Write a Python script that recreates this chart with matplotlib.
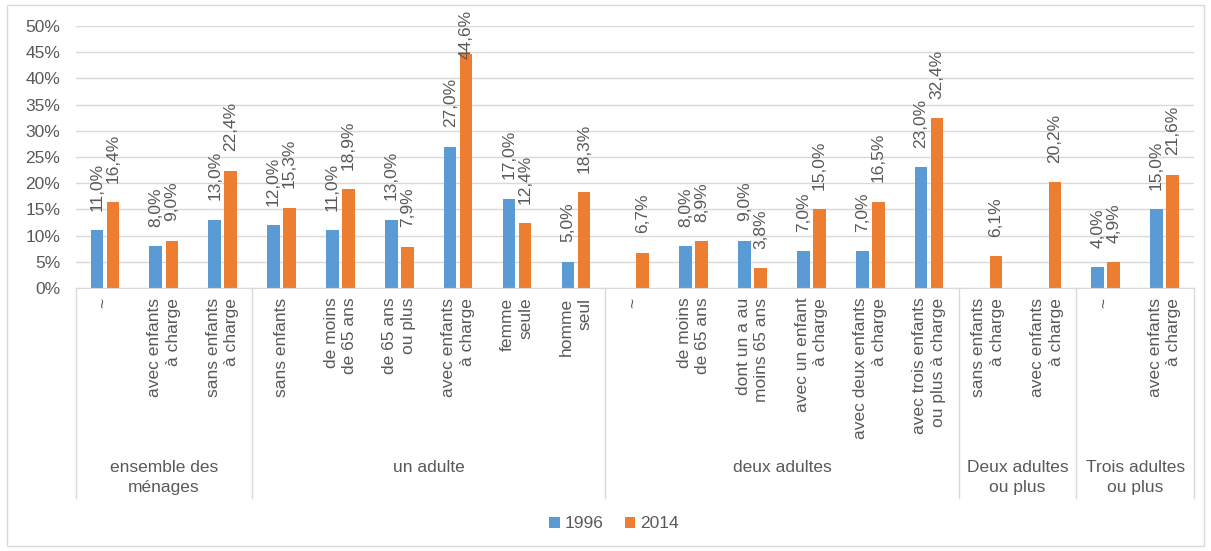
import matplotlib.pyplot as plt
import numpy as np
from matplotlib.patches import Rectangle
import matplotlib.transforms as mtransforms

plt.rcParams['font.family'] = ['Liberation Sans', 'DejaVu Sans']

# Data
categories = ["~", "avec enfants\nà charge", "sans enfants\nà charge",
              "sans enfants", "de moins\nde 65 ans", "de 65 ans\nou plus",
              "avec enfants\nà charge", "femme\nseule", "homme\nseul",
              "~", "de moins\nde 65 ans", "dont un a au\nmoins 65 ans",
              "avec un enfant\nà charge", "avec deux enfants\nà charge",
              "avec trois enfants\nou plus à charge",
              "sans enfants\nà charge", "avec enfants\nà charge",
              "~", "avec enfants\nà charge"]
groups = ["ensemble des\nménages", "un adulte", "deux adultes",
          "Deux adultes\nou plus", "Trois adultes\nou plus"]
group_sizes = [3, 6, 6, 2, 2]
v1996 = [11.0, 8.0, 13.0, 12.0, 11.0, 13.0, 27.0, 17.0, 5.0,
         None, 8.0, 9.0, 7.0, 7.0, 23.0, None, None, 4.0, 15.0]
v2014 = [16.4, 9.0, 22.4, 15.3, 18.9, 7.9, 44.6, 12.4, 18.3,
         6.7, 8.9, 3.8, 15.0, 16.5, 32.4, 6.1, 20.2, 4.9, 21.6]

blue = '#5B9BD5'
orange = '#ED7D31'
grey = '#595959'
light = '#d9d9d9'

W, H = 1211, 551
fig = plt.figure(figsize=(W / 100, H / 100), dpi=100)
ax = fig.add_axes([75.5 / W, 1 - 288 / H, (1194 - 75.5) / W, (288 - 26) / H])

x = np.arange(len(categories))
bw = 0.214
off = 0.136
y96 = np.array([np.nan if v is None else v for v in v1996])
y14 = np.array(v2014, dtype=float)
ax.bar(x - off, y96, bw, color=blue, label='1996', zorder=2)
ax.bar(x + off, y14, bw, color=orange, label='2014', zorder=2)

ax.set_xlim(-0.5, len(categories) - 0.5)
ax.set_ylim(0, 50)
ax.set_yticks(np.arange(0, 51, 5))
ax.set_yticklabels([f"{t}%" for t in range(0, 51, 5)])
ax.yaxis.grid(True, color=light, linewidth=1, zorder=0)
ax.set_axisbelow(True)
for s in ['top', 'right', 'left']:
    ax.spines[s].set_visible(False)
ax.spines['bottom'].set_color(light)
ax.tick_params(axis='y', length=0, pad=11, labelsize=12.5, labelcolor=grey)
ax.tick_params(axis='x', length=0, pad=7)
ax.set_xticks(x)
ax.set_xticklabels(categories, rotation=90, va='top', ha='center',
                   multialignment='right', fontsize=12.5, color=grey,
                   linespacing=1.3)

# data labels
gap = 14
labels = []
for xs, ys in [(x - off, y96), (x + off, y14)]:
    for xi, yi in zip(xs, ys):
        if np.isnan(yi):
            continue
        t = ax.annotate(f"{yi:.1f}%".replace('.', ','), (xi, yi),
                        xytext=(0, gap), textcoords='offset points',
                        rotation=90, ha='center', va='bottom',
                        fontsize=12.5, color=grey, annotation_clip=False)
        labels.append(t)

# group separators and labels
trans = mtransforms.blended_transform_factory(ax.transData, ax.transAxes)
sep_bottom = -(498 - 288) / (288 - 26)
edges = np.concatenate([[0], np.cumsum(group_sizes)]) - 0.5
for e in edges:
    ax.plot([e, e], [0, sep_bottom], color=light, linewidth=1,
            transform=trans, clip_on=False)
for g, a, b in zip(groups, edges[:-1], edges[1:]):
    ax.text((a + b) / 2, -(460 - 288) / (288 - 26), g, transform=trans,
            ha='center', va='top', fontsize=12.5, color=grey,
            linespacing=1.4)

fig.legend(loc='center', bbox_to_anchor=(614 / W, 1 - 524 / H),
           ncol=2, frameon=False, fontsize=12.5, labelcolor=grey,
           handlelength=0.6, handleheight=0.6, handletextpad=0.3,
           columnspacing=1.2)

# outer chart frame
fig.add_artist(Rectangle((7 / W, 5 / H), 1197 / W, 541 / H,
                         transform=fig.transFigure, fill=False,
                         edgecolor=light, linewidth=1))

# keep labels inside the chart area
fig.canvas.draw()
r = fig.canvas.get_renderer()
limit = H - 10
for t in labels:
    bb = t.get_window_extent(r)
    if bb.y1 > limit:
        shift = (bb.y1 - limit) * 72 / fig.dpi
        t.xyann = (0, gap - shift)

fig.savefig('out.png', dpi=100)
